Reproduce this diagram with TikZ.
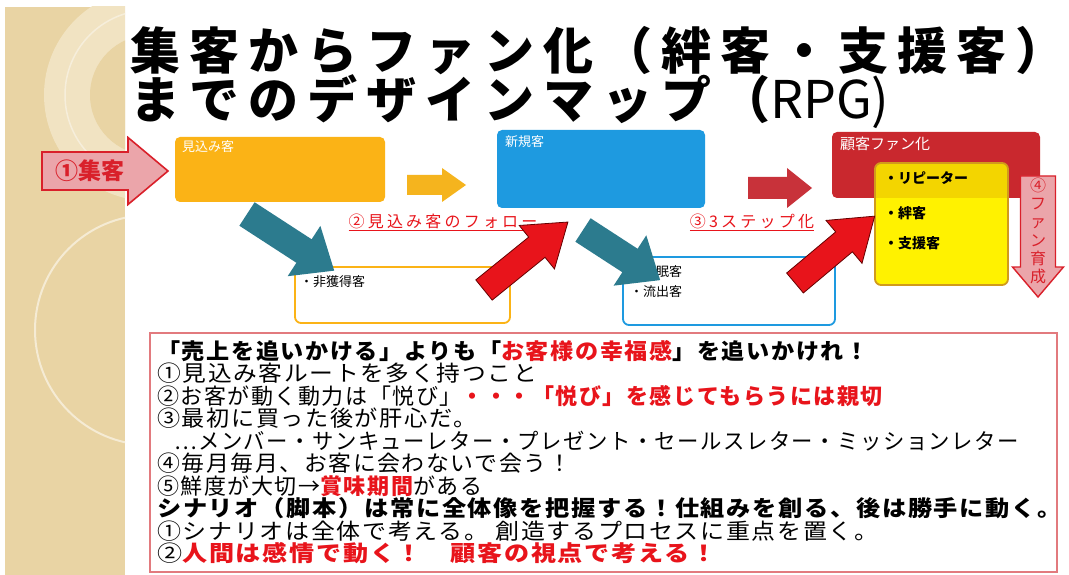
\documentclass[tikz,border=0pt]{standalone}
\usepackage{graphicx}
\usepackage{fontspec}
\newfontfamily\jp{Noto Sans CJK JP}
\newfontfamily\jpl{Noto Sans CJK JP}[LetterSpace=7]
\newfontfamily\jpt{Noto Sans CJK JP}[LetterSpace=18]
\newfontfamily\jpu{Noto Sans CJK JP}[LetterSpace=20]
\usetikzlibrary{calc}
\definecolor{beige}{HTML}{E9D4A4}
\definecolor{beigelt}{HTML}{F1E3C2}
\definecolor{orangebox}{HTML}{FBB316}
\definecolor{bluebox}{HTML}{1E9AE0}
\definecolor{redbox}{HTML}{C9282E}
\definecolor{yel}{HTML}{FFF200}
\definecolor{yeldk}{HTML}{F3D500}
\definecolor{yelborder}{HTML}{D19A1C}
\definecolor{teal}{HTML}{2C7B8E}
\definecolor{brightred}{HTML}{E8141B}
\definecolor{pinkfill}{HTML}{EBA5AA}
\definecolor{arrred}{HTML}{D9202A}
\definecolor{darkarr}{HTML}{C8323A}
\definecolor{orangearr}{HTML}{F5B41E}
\definecolor{boxborder}{HTML}{E27A7E}
\definecolor{rtext}{HTML}{E8141B}
\newcommand\blockarr[8]{%
\begin{scope}[shift={#3},rotate=#4]
\coordinate (#1) at (0,0);
\path[#2] (0,-#6/2) -- ({#5-#8},-#6/2) -- ({#5-#8},-#7/2) -- (#5,0) -- ({#5-#8},#7/2) -- ({#5-#8},#6/2) -- (0,#6/2) -- cycle;
\end{scope}}
\newcommand\hs[2]{\scalebox{#1}[1]{#2}}
\tikzset{
  box/.style={rounded corners=5pt, inner sep=0},
  boxlabel/.style={anchor=north west, inner sep=0, text=white, font=\jp\fontsize{13}{14}\selectfont},
  ylabel/.style={anchor=west, inner sep=0, font=\jp\bfseries\fontsize{14}{15}\selectfont},
  wlabel/.style={anchor=west, inner sep=0, font=\jp\fontsize{13}{14}\selectfont},
  btxt/.style={anchor=base west, inner sep=0, font=\jpl\fontsize{22}{24}\selectfont},
  title/.style={anchor=base west, inner sep=0, font=\jpt\bfseries\fontsize{50}{52}\selectfont},
  ulabel/.style={anchor=center, inner sep=0, text=rtext, font=\jpu\fontsize{16}{17}\selectfont},
}
\begin{document}
\begin{tikzpicture}[x=1pt,y=-1pt]
\useasboundingbox (0,0) rectangle (1069,575);
\fill[white] (0,0) rectangle (1069,575);
% left decorative panel
\begin{scope}
\clip (5,7) rectangle (125,575);
\fill[beige] (5,7) rectangle (125,575);
\fill[beigelt] (150,95) circle (105);
\fill[beige] (150,95) circle (60);
\draw[beigelt, line width=2] (150,95) circle (105);
\draw[beigelt!70!white, line width=2] (150,330) circle (115);
\draw[white!60!beige, line width=1.5] (150,95) circle (85);
\end{scope}
% title
\node[title] (t1) at (130,70) {集客からファン化（絆客・支援客）};
\node[title] (t2) at (130,119) {までのデザインマップ（{\jp\mdseries\fontsize{52}{54}\selectfont RPG)}};
% top boxes
\fill[orangebox, box] (175,137) rectangle (385,202);
\node[boxlabel] (b1) at (182,140) {見込み客};
\fill[bluebox, box] (497,130) rectangle (705,208);
\node[boxlabel] (b2) at (505,135) {新規客};
\fill[redbox, box] (832,132) rectangle (1040,198);
\node[boxlabel, font=\jp\fontsize{15}{16}\selectfont] (b3) at (840,137) {顧客ファン化};
% yellow box
\begin{scope}
\clip[rounded corners=6pt] (875,163) rectangle (1008,285);
\fill[yel] (875,163) rectangle (1008,285);
\fill[yeldk] (875,163) rectangle (1008,198);
\end{scope}
\draw[yelborder, line width=1.8, rounded corners=6pt] (875,163) rectangle (1008,285);
\node[ylabel] (y1) at (884,178) {・リピーター};
\node[ylabel] (y2) at (884,213) {・絆客};
\node[ylabel] (y3) at (884,243) {・支援客};
% lower boxes
\draw[orangebox, line width=1.8, rounded corners=6pt, fill=white] (295,267) rectangle (510,323);
\node[wlabel] (n1) at (300,282) {・非獲得客};
\draw[bluebox, line width=1.8, rounded corners=6pt, fill=white] (623,257) rectangle (835,325);
\node[wlabel] (n2) at (630,272) {・休眠客};
\node[wlabel] (n3) at (630,292) {・流出客};
% arrows
\blockarr{a1}{fill=pinkfill, draw=arrred, line width=1.6}{(42,171)}{0}{126}{38}{67}{40}
\node[inner sep=0, text=arrred, font=\jp\bfseries\fontsize{23}{24}\selectfont] (a1t) at (90,171) {①集客};
\blockarr{a2}{fill=orangearr}{(407,185)}{0}{59}{20}{34}{24}
\blockarr{a3}{fill=darkarr}{(748,188)}{0}{64}{22}{40}{25}
% down arrow
\blockarr{a4}{fill=pinkfill, draw=arrred, line width=1.4}{(1038,176)}{-90}{121}{35}{51}{30}
\node[inner sep=0, text=arrred, align=center, font=\jp\fontsize{16}{18.2}\selectfont] (a4t) at (1038,231) {④\\フ\\ァ\\ン\\育\\成};
% labels
\node[ulabel] (l2) at (443,222) {\underline{②見込み客のフォロー}};
\node[ulabel] (l3) at (752,222) {\underline{③3ステップ化}};
% diagonal arrows
\blockarr{d1}{fill=teal}{(247,214)}{-33}{104}{28}{60}{36}
\blockarr{d2}{fill=brightred, draw=black!60!red, line width=0.8}{(484,290)}{39}{108}{26}{56}{40}
\blockarr{d3}{fill=teal}{(583,230)}{-33}{92}{28}{60}{36}
\blockarr{d4}{fill=brightred, draw=black!60!red, line width=0.8}{(795,283)}{40}{104}{26}{56}{40}
% bottom box
\draw[boxborder, line width=1.3, fill=white] (150,333) rectangle (1057,572);
\node[btxt] (s1) at (157,359) {\hs{1.05}{\bfseries 「売上を追いかける」よりも「\textcolor{rtext}{お客様の幸福感}」を追いかけれ！}};
\node[btxt] (s2) at (157,381.5) {\hs{1.08}{①見込み客ルートを多く持つこと}};
\node[btxt] (s3) at (157,404) {②お客が動く動力は「悦び」\textcolor{rtext}{\bfseries ・・・「悦び」を感じてもらうには親切}};
\node[btxt] (s4) at (157,426.5) {\hs{1.05}{③最初に買った後が肝心だ。}};
\node[btxt] (s5) at (174,449) {\hs{0.97}{…メンバー・サンキューレター・プレゼント・セールスレター・ミッションレター}};
\node[btxt] (s6) at (157,471.5) {\hs{1.04}{④毎月毎月、お客に会わないで会う！}};
\node[btxt] (s7) at (157,494) {⑤鮮度が大切→\textcolor{rtext}{\bfseries 賞味期間}がある};
\node[btxt] (s8) at (157,516.5) {\hs{1.1}{\bfseries シナリオ（脚本）は常に全体像を把握する！仕組みを創る、後は勝手に動く。}};
\node[btxt] (s9) at (157,539) {\hs{1.09}{①シナリオは全体で考える。 創造するプロセスに重点を置く。}};
\node[btxt] (s10) at (157,561.5) {\hs{1.14}{②\textcolor{rtext}{\bfseries 人間は感情で動く！　顧客の視点で考える！}}};
\end{tikzpicture}
\end{document}
